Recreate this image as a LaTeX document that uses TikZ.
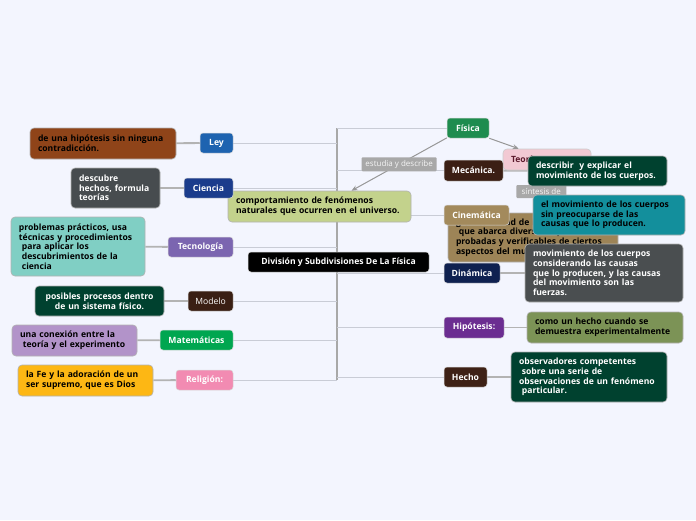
\documentclass[tikz,border=0pt]{standalone}
\usepackage{fontspec}
\setmainfont{Open Sans}
\usetikzlibrary{backgrounds,arrows.meta}

\definecolor{bgpage}{HTML}{F3F5FE}
\definecolor{cley}{HTML}{1E63B0}   \definecolor{cleyd}{HTML}{8F4419}
\definecolor{ccie}{HTML}{1B3C8C}   \definecolor{ccied}{HTML}{474C4F}
\definecolor{ctec}{HTML}{7B65B0}   \definecolor{ctecd}{HTML}{80CFC4}
\definecolor{cmod}{HTML}{3A1F14}   \definecolor{cmodd}{HTML}{00412F}
\definecolor{cmat}{HTML}{00A650}   \definecolor{cmatd}{HTML}{B293C9}
\definecolor{crel}{HTML}{F28BB2}   \definecolor{creld}{HTML}{FDB714}
\definecolor{ccomp}{HTML}{C3D28C}  \definecolor{cfis}{HTML}{1E8C4F}
\definecolor{cteo}{HTML}{F2C9D3}   \definecolor{cteotx}{HTML}{5C1A2C}
\definecolor{cteod}{HTML}{9D8457}  \definecolor{cmec}{HTML}{3B1F14}
\definecolor{cmecd}{HTML}{00412F}  \definecolor{ccin}{HTML}{A38A5C}
\definecolor{ccind}{HTML}{138F9C}  \definecolor{cdin}{HTML}{0F2150}
\definecolor{cdind}{HTML}{4A4E50}  \definecolor{chip}{HTML}{6B2D91}
\definecolor{chipd}{HTML}{7C9356}  \definecolor{chec}{HTML}{3E2116}
\definecolor{checd}{HTML}{00412F}  \definecolor{clabel}{HTML}{A8A8A8}
\definecolor{cline}{HTML}{C9CCD6}  \definecolor{clink}{HTML}{B3B3B3}

\newcommand\mapfont{\fontsize{8.6}{9.7}\selectfont\bfseries}

\tikzset{
  topic/.style={rounded corners=3pt, draw=black!15, line width=0.5pt,
    inner sep=0pt, minimum height=20pt, text=white, font=\mapfont},
  desc/.style={rounded corners=4pt, draw=black!30, line width=0.6pt,
    inner xsep=8pt, inner ysep=0pt, align=left, font=\mapfont},
  tag/.style={fill=clabel, rounded corners=1pt, inner sep=0pt,
    text=white!88!clabel, font=\fontsize{8}{9}\selectfont},
  spoke/.style={cline, line width=1pt},
  link/.style={clink, line width=1.8pt},
  relarrow/.style={clabel!90!black, line width=1pt, -{Stealth[length=6pt,width=5pt]}}
}

\begin{document}
\begin{tikzpicture}[x=1pt,y=-1pt]
  \useasboundingbox (0,0) rectangle (696,520);
  \coordinate (spine) at (337,0);

  % centre
  \node[topic, fill=black, minimum width=181pt] (main) at (338.5,262) {División y Subdivisiones De La Física};
  \node[desc, fill=ccomp, text width=167pt, minimum height=31pt] (comp) at (319.5,206.5)
    {comportamiento de fenómenos\\naturales que ocurren en el universo.};

  % left side
  \node[topic, fill=cley, minimum width=33pt] (ley) at (216.5,143) {Ley};
  \node[topic, fill=ccie, minimum width=49pt] (cie) at (208.5,188) {Ciencia};
  \node[topic, fill=ctec, minimum width=65pt] (tec) at (200.5,247) {Tecnología};
  \node[topic, fill=cmod, minimum width=45pt, font=\fontsize{8.6}{9.7}\selectfont] (mod) at (210.5,301) {Modelo};
  \node[topic, fill=cmat, minimum width=73pt] (mat) at (196.5,340) {Matemáticas};
  \node[topic, fill=crel, minimum width=57pt] (rel) at (204.5,380) {Religión:};

  \node[desc, fill=cleyd, text width=130pt, minimum height=31pt] (leyd) at (103,143.5)
    {de una hipótesis sin ninguna\\contradicción.};
  \node[desc, fill=ccied, text=white, text width=73pt, minimum height=40pt] (cied) at (115.5,188)
    {descubre\\hechos, formula\\teorías};
  \node[desc, fill=ctecd, text width=118pt, minimum height=59pt] (tecd) at (78,246.5)
    {problemas prácticos, usa\\técnicas y procedimientos\\\ para aplicar los\\\ descubrimientos de la\\\ ciencia};
  \node[desc, fill=cmodd, text=white, align=center, text width=113pt, minimum height=30pt] (modd) at (99.5,301)
    {posibles procesos dentro\\de un sistema físico.};
  \node[desc, fill=cmatd, text width=109pt, minimum height=31pt] (matd) at (74.5,340.5)
    {una conexión entre la\\\ teoría y el experimento};
  \node[desc, fill=creld, text width=119pt, minimum height=31pt] (reld) at (85.5,380.5)
    {la Fe y la adoración de un\\ser supremo, que es Dios};

  % right side
  \node[topic, fill=cfis, minimum width=42pt] (fis) at (468,128) {Física};
  \node[desc, fill=cteo, text=cteotx, text width=72pt, minimum height=21pt, draw=black!20] (teo) at (547,159.5) {Teoría};
  \node[desc, fill=cteod, text width=154pt, minimum height=49pt] (teod) at (533,237.5)
    {gran cantidad de información\\\ que abarca diversas hipótesis\\probadas y verificables de ciertos\\aspectos del mundo};
  \draw[link] (teo) -- (teod) node[tag, midway, minimum width=50pt, minimum height=13pt] (sint) {síntesis de};

  \node[topic, fill=cmec, minimum width=59pt, minimum height=21pt] (mec) at (473.5,170.5) {Mecánica.};
  \node[topic, fill=ccin, minimum width=65pt] (cin) at (476.5,215) {Cinemática};
  \node[topic, fill=cdin, minimum width=56pt] (din) at (472,273) {Dinámica};
  \node[topic, fill=chip, minimum width=60pt, minimum height=21pt] (hip) at (474,327.5) {Hipótesis:};
  \node[topic, fill=chec, minimum width=43pt] (hec) at (465.5,377) {Hecho};

  \node[desc, fill=cmecd, text=white, text width=123pt, minimum height=30pt] (mecd) at (597.5,171)
    {describir\ \ y explicar el\\movimiento de los cuerpos.};
  \node[desc, fill=ccind, text width=136pt, minimum height=40pt] (cind) at (609,215)
    {el movimiento de los cuerpos\\sin preocuparse de las\\causas que lo producen.};
  \node[desc, fill=cdind, text=white, text width=142pt, minimum height=58pt] (dind) at (604,273)
    {movimiento de los cuerpos\\considerando las causas\\que lo producen, y las causas\\del movimiento son las\\fuerzas.};
  \node[desc, fill=chipd, text width=140pt, minimum height=31pt] (hipd) at (605,327.5)
    {como un hecho cuando se\\demuestra experimentalmente};
  \node[desc, fill=checd, text=white, text width=140pt, minimum height=50pt] (hecd) at (589,377)
    {observadores competentes\\\ sobre una serie de\\observaciones de un fenómeno\\\ particular.};

  % relations
  \draw[relarrow] (fis.205) -- ([xshift=32pt]comp.north) node[tag, pos=0.5, minimum width=75pt, minimum height=14pt] (estu) {estudia y describe};
  \draw[relarrow] (fis.south east) -- ([xshift=16pt]teo.north west);

  \begin{scope}[on background layer]
    \fill[bgpage] (0,0) rectangle (696,520);
    \draw[clabel, line width=1.5pt] (spine |- fis) -- (spine |- rel);
    \foreach \n in {ley,cie,tec,mod,mat,rel} \draw[spoke] (\n.east) -- (\n.east -| spine);
    \foreach \n in {fis,mec,cin,din,hip,hec} \draw[spoke] (\n.west) -- (\n.west -| spine);
    \foreach \a/\b in {leyd/ley,cied/cie,tecd/tec,modd/mod,matd/mat,reld/rel,mec/mecd,cin/cind,din/dind,hip/hipd,hec/hecd}
      \draw[link] (\a) -- (\b);
  \end{scope}
\end{tikzpicture}
\end{document}
